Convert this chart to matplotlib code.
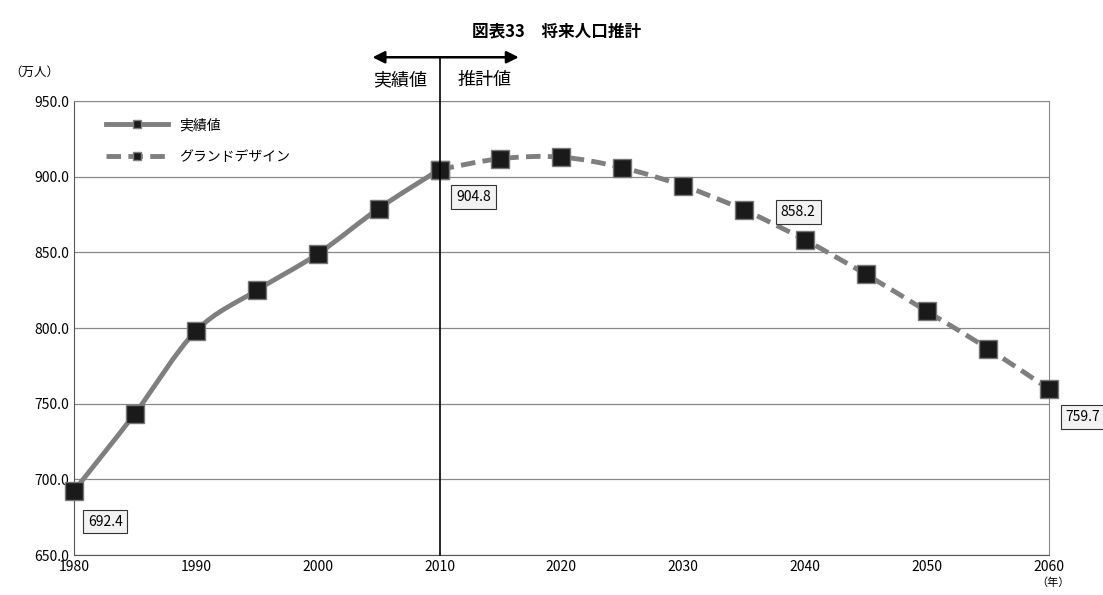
import matplotlib
matplotlib.use("Agg")
import matplotlib.pyplot as plt
from matplotlib.path import Path
from matplotlib.patches import PathPatch

plt.rcParams['font.family'] = ['Noto Sans CJK JP', 'DejaVu Sans']

years_actual = [1980, 1985, 1990, 1995, 2000, 2005, 2010]
pop_actual = [692.4, 743.5, 798.0, 825.0, 849.0, 879.0, 904.8]
years_plan = [2010, 2015, 2020, 2025, 2030, 2035, 2040, 2045, 2050, 2055, 2060]
pop_plan = [904.8, 912.0, 913.0, 906.0, 894.0, 878.0, 858.2, 835.5, 811.0, 786.5, 759.7]
labels = {1980: 692.4, 2010: 904.8, 2040: 858.2, 2060: 759.7}


def smooth_path(xs, ys):
    pts = list(zip(xs, ys))
    verts = [pts[0]]
    codes = [Path.MOVETO]
    for i in range(len(pts) - 1):
        p0 = pts[i - 1] if i > 0 else pts[i]
        p1, p2 = pts[i], pts[i + 1]
        p3 = pts[i + 2] if i + 2 < len(pts) else pts[i + 1]
        c1 = (p1[0] + (p2[0] - p0[0]) / 6, p1[1] + (p2[1] - p0[1]) / 6)
        c2 = (p2[0] - (p3[0] - p1[0]) / 6, p2[1] - (p3[1] - p1[1]) / 6)
        verts += [c1, c2, p2]
        codes += [Path.CURVE4] * 3
    return Path(verts, codes)


fig = plt.figure(figsize=(11.03, 5.95), dpi=100)
ax = fig.add_axes([0.067, 0.067, 0.884, 0.763])
ax.set_xlim(1980, 2060)
ax.set_ylim(650, 950)
ax.set_xticks(range(1980, 2061, 10))
ax.set_yticks(range(650, 951, 50))
ax.set_yticklabels([f"{v:.1f}" for v in range(650, 951, 50)])
ax.tick_params(labelsize=10, length=0)
ax.grid(axis='y', color='#888888', lw=0.9)
for s in ['top', 'right']:
    ax.spines[s].set_color('#888888')
for s in ['left', 'bottom']:
    ax.spines[s].set_color('#555555')

col = '#7f7f7f'
ax.add_patch(PathPatch(smooth_path(years_actual, pop_actual), fill=False, ec=col, lw=3.5, zorder=3))
ax.add_patch(PathPatch(smooth_path(years_plan, pop_plan), fill=False, ec=col, lw=3.5, ls=(0, (3, 1.5)), zorder=3))
ax.plot(years_actual, pop_actual, ls='none', marker='s', ms=13, mfc='#1a1a1a', mec='#777777', mew=1,
        zorder=4, clip_on=False)
ax.plot(years_plan, pop_plan, ls='none', marker='s', ms=13, mfc='#1a1a1a', mec='#777777', mew=1,
        zorder=4, clip_on=False)

# legend
ax.plot([], [], color=col, lw=3.5, marker='s', ms=6, mfc='#1a1a1a', label='実績値')
ax.plot([], [], color=col, lw=3.5, ls=(0, (3, 1.5)), marker='s', ms=6, mfc='#1a1a1a', label='グランドデザイン')
ax.legend(loc='upper left', frameon=False, fontsize=10, handlelength=4.5,
          labelspacing=1.3, bbox_to_anchor=(0.02, 0.99))

offsets = {1980: (10, -22), 2010: (12, -20), 2040: (-5, 20), 2060: (12, -20)}
for yr, v in labels.items():
    ax.annotate(f"{v:.1f}", (yr, v), xytext=offsets[yr], textcoords='offset points',
                fontsize=10, ha='center' if yr == 2040 else 'left', va='center',
                bbox=dict(boxstyle='square,pad=0.35', fc='#f2f2f2', ec='#333333', lw=0.8),
                zorder=5, annotation_clip=False)

# divider and arrow
ax.plot([2010, 2010], [650, 979], color='black', lw=1.2, clip_on=False, zorder=5)
for x_end in (2004.5, 2016.5):
    ax.annotate('', xy=(x_end, 979), xytext=(2010, 979), annotation_clip=False,
                arrowprops=dict(arrowstyle='-|>', color='black', lw=1.8, mutation_scale=18,
                                shrinkA=0, shrinkB=0))
ax.text(2009, 964, '実績値', fontsize=13, ha='right', va='center')
ax.text(2011.5, 964, '推計値', fontsize=13, ha='left', va='center')

fig.text(0.505, 0.948, '図表33　将来人口推計', fontsize=12, fontweight='bold', ha='center', va='center')
fig.text(0.008, 0.878, '（万人）', fontsize=9, ha='left', va='center')
fig.text(0.955, 0.012, '（年）', fontsize=8, ha='center', va='bottom')

fig.savefig('out.png', dpi=100)
